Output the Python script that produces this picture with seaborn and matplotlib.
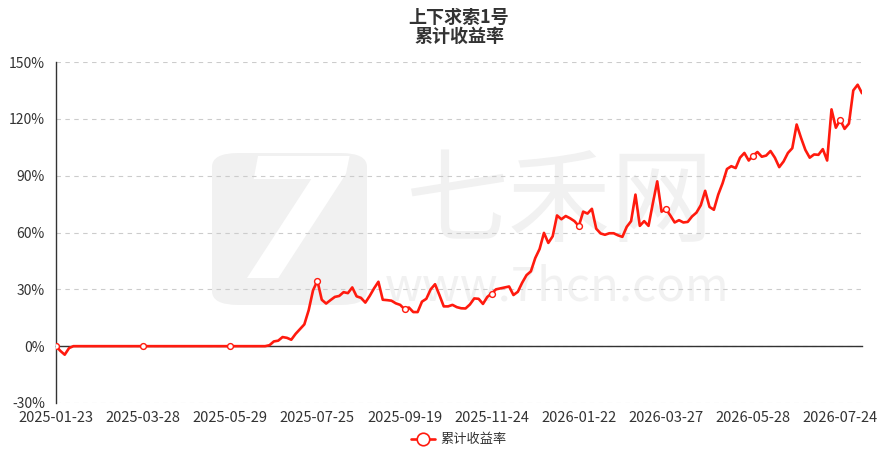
import matplotlib
matplotlib.use("Agg")
import matplotlib.pyplot as plt
from matplotlib.lines import Line2D
from matplotlib.patches import FancyBboxPatch
import seaborn as sns
import numpy as np
import pandas as pd

# ---- data (cumulative return, %, one value per ~2 trading days) ----
tick_labels = ["2025-01-23", "2025-03-28", "2025-05-29", "2025-07-25", "2025-09-19",
               "2025-11-24", "2026-01-22", "2026-03-27", "2026-05-28", "2026-07-24"]
tick_step = 20

returns_2025_h1 = [0.0, -2.5, -4.5, -1.0, 0.0, 0.0, 0.0, 0.0, 0.0, 0.0,
                   0.0, 0.0, 0.0, 0.0, 0.0, 0.0, 0.0, 0.0, 0.0, 0.0,
                   0.0, 0.0, 0.0, 0.0, 0.0, 0.0, 0.0, 0.0, 0.0, 0.0,
                   0.0, 0.0, 0.0, 0.0, 0.0, 0.0, 0.0, 0.0, 0.0, 0.0,
                   0.0, 0.0, 0.0, 0.0, 0.0, 0.0, 0.0, 0.0]
returns_2025_h2 = [0.0, 0.5, 2.5, 2.9, 4.8, 4.4, 3.4, 6.5, 9.0, 11.5,
                   19.0, 29.5, 34.5, 24.5, 22.5, 24.3, 26.0, 26.5, 28.5, 28.0,
                   31.0, 26.3, 25.5, 23.0, 26.5, 30.5, 34.0, 24.5, 24.3, 24.0,
                   22.6, 21.8, 19.5, 20.4, 18.0, 18.0, 23.5, 25.0, 30.0, 32.7,
                   27.0, 21.0, 21.0, 21.8, 20.6, 20.0, 19.9, 22.0, 25.2, 25.0,
                   22.3, 26.0, 27.8, 30.0, 30.5, 31.0, 31.5, 27.0, 28.7, 33.5,
                   37.5, 39.5, 46.5, 51.3, 59.8, 54.5, 58.0, 69.0, 67.0, 68.7,
                   67.5, 66.0]
returns_2026 = [63.4, 71.0, 70.0, 72.5, 62.0, 59.5, 58.8, 59.6, 59.6, 58.5,
                57.7, 63.0, 66.0, 80.0, 63.5, 66.0, 63.5, 75.5, 87.0, 71.0,
                72.4, 69.0, 65.3, 66.5, 65.3, 65.6, 68.5, 70.5, 74.4, 82.0,
                73.5, 72.0, 80.0, 86.0, 93.5, 95.0, 94.0, 99.5, 102.0, 98.0,
                100.6, 102.5, 100.0, 100.6, 103.0, 99.5, 94.5, 97.5, 102.0, 104.5,
                117.0, 110.0, 103.6, 99.5, 101.2, 101.0, 104.0, 98.0, 125.0, 115.3,
                119.5, 114.7, 117.5, 135.0, 138.0, 133.5]

series_name = "累计收益率"
title_text = "上下求索1号\n累计收益率"
y_ticks = [-30, 0, 30, 60, 90, 120, 150]

values = returns_2025_h1 + returns_2025_h2 + returns_2026
df = pd.DataFrame({"idx": np.arange(len(values)), "ret": values})

# ---- style ----
sns.set_theme(style="white")
plt.rcParams['font.family'] = ['Noto Sans CJK SC', 'DejaVu Sans']
plt.rcParams['axes.unicode_minus'] = False

fig = plt.figure(figsize=(8.9, 4.59), dpi=100)
ax = fig.add_axes([56 / 890, 1 - 403 / 459, 806 / 890, 341 / 459])
ax.set_facecolor("white")

red = "#ff1a0e"
sns.lineplot(data=df, x="idx", y="ret", ax=ax, color=red, linewidth=1.9,
             marker="o", markevery=tick_step, markersize=4.2,
             markerfacecolor="white", markeredgecolor=red, markeredgewidth=1.0,
             legend=False, zorder=3)

# ---- watermark ----
wm = "#f1f1f1"
ax.add_patch(FancyBboxPatch((212 / 890, 1 - 305 / 459), 155 / 890, 152 / 459,
                            boxstyle="round,pad=0,rounding_size=0.03",
                            transform=fig.transFigure, facecolor=wm,
                            edgecolor="none", zorder=0.1))
ax.text(292 / 890, 1 - 232 / 459, "7", transform=fig.transFigure, fontsize=120,
        color="white", ha="center", va="center", fontweight="bold",
        style="italic", family="DejaVu Sans", zorder=0.2)
ax.text(560 / 890, 1 - 205 / 459, "七禾网", transform=fig.transFigure,
        fontsize=74, color=wm, ha="center", va="center", zorder=0.1)
ax.text(557 / 890, 1 - 287 / 459, "www.7hcn.com", transform=fig.transFigure,
        fontsize=34, color=wm, ha="center", va="center", zorder=0.1)

# ---- axes ----
ax.set_xlim(0, len(values) - 1)
ax.set_ylim(-30, 150)
ax.set_yticks(y_ticks)
ax.set_yticklabels([f"{v}%" for v in y_ticks], color="#333333", fontsize=10)
ax.set_axisbelow(True)
ax.grid(axis="y", color="#cccccc", linestyle=(0, (4, 4)), linewidth=0.8)
ax.grid(axis="x", visible=False)

for s in ["top", "right"]:
    ax.spines[s].set_visible(False)
ax.spines["left"].set_color("#333333")
ax.spines["left"].set_linewidth(1.0)
ax.spines["bottom"].set_position(("data", 0))
ax.spines["bottom"].set_color("#333333")
ax.spines["bottom"].set_linewidth(1.0)
ax.tick_params(axis="y", direction="out", length=5, width=1, color="#333333", pad=3)

tick_pos = [i * tick_step for i in range(len(tick_labels))]
ax.set_xticks(tick_pos)
ax.tick_params(axis="x", direction="out", length=5, width=1, color="#333333",
               labelbottom=False)
ax.set_xlabel("")
ax.set_ylabel("")

sec = ax.secondary_xaxis(0.0)
sec.set_xticks(tick_pos)
sec.set_xticklabels(tick_labels, color="#333333", fontsize=10.5)
sec.tick_params(axis="x", length=0, pad=6)
sec.spines["bottom"].set_visible(False)

# ---- title ----
fig.text(459 / 890, 1 - 27 / 459, title_text, ha="center", va="center",
         fontsize=13, fontweight="bold", color="#333333", linespacing=1.05)

# ---- legend ----
handle = Line2D([0], [0], color=red, linewidth=1.9, marker="o", markersize=9,
                markerfacecolor="white", markeredgecolor=red, markeredgewidth=1.2)
fig.legend([handle], [series_name], loc="center", bbox_to_anchor=(459 / 890, 1 - 440 / 459),
           frameon=False, fontsize=9.5, handlelength=1.8, handletextpad=0.4,
           labelcolor="#333333")

fig.savefig("out.png", dpi=100)
